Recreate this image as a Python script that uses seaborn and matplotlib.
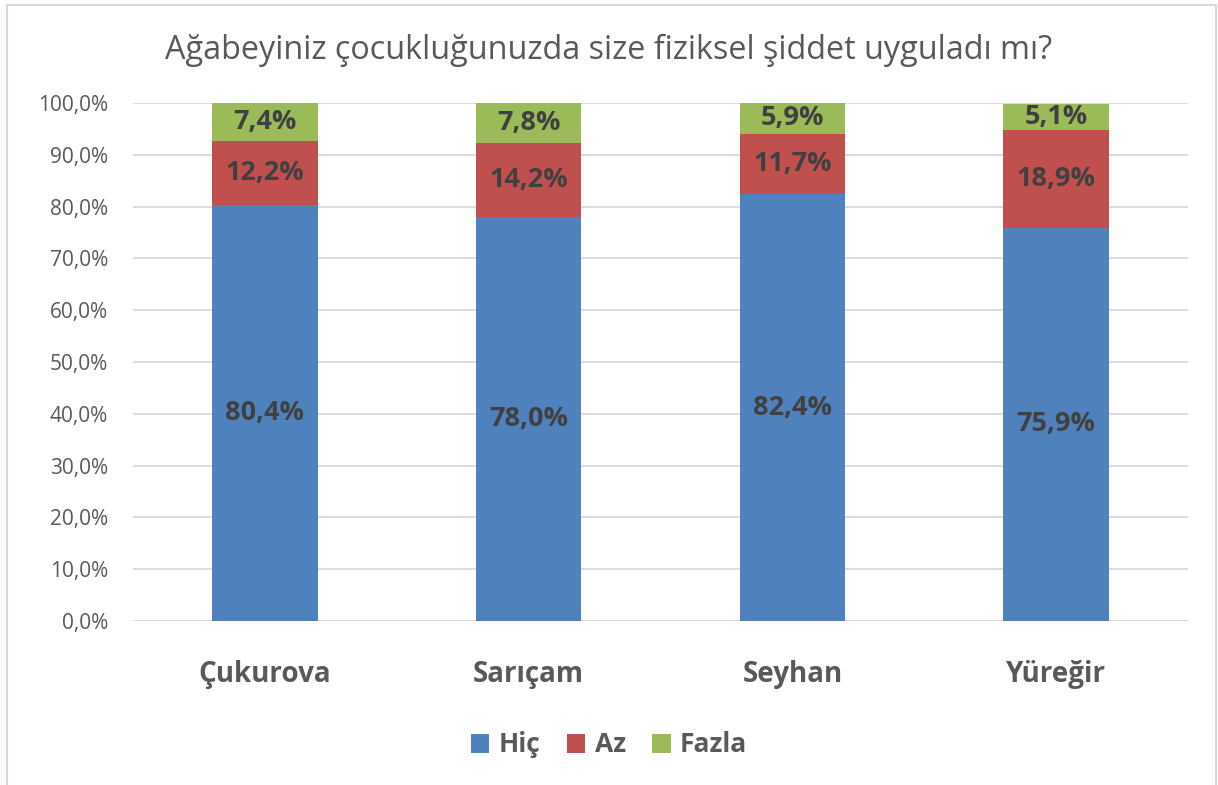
import numpy as np
import pandas as pd
import matplotlib
matplotlib.use("Agg")
import matplotlib.pyplot as plt
import seaborn as sns
from matplotlib.patches import Patch
from matplotlib.lines import Line2D

ilceler = ["Çukurova", "Sarıçam", "Seyhan", "Yüreğir"]
hic = [80.4, 78.0, 82.4, 75.9]
az = [12.2, 14.2, 11.7, 18.9]
fazla = [7.4, 7.8, 5.9, 5.1]

renkler = {"Hiç": "#4F81BD", "Az": "#C0504D", "Fazla": "#9BBB59"}

sns.set_theme(style="white")
plt.rcParams["font.family"] = ["Open Sans", "DejaVu Sans"]

df = pd.DataFrame({"ilce": ilceler, "Hiç": hic, "Az": az, "Fazla": fazla})
df["c_hic"] = df["Hiç"]
df["c_az"] = df["Hiç"] + df["Az"]
df["c_fazla"] = df["c_az"] + df["Fazla"]

fig = plt.figure(figsize=(12.18, 7.85), dpi=100)
ax = fig.add_axes([133 / 1218, 1 - 621 / 785, (1188 - 133) / 1218, (621 - 103) / 785])

# yigilmis cubuklar: toplamdan asagi dogru ust uste cizilir
for col, ad in [("c_fazla", "Fazla"), ("c_az", "Az"), ("c_hic", "Hiç")]:
    sns.barplot(data=df, x="ilce", y=col, color=renkler[ad], width=0.4,
                saturation=1, linewidth=0, ax=ax, zorder=3)

ax.set_ylim(0, 100)
ax.set_xlim(-0.5, 3.5)
ax.set_yticks(np.arange(0, 101, 10))
ax.set_yticklabels([f"{v:.1f}%".replace(".", ",") for v in np.arange(0, 101, 10)],
                   fontsize=15, color="#595959")
ax.yaxis.grid(True, color="#D9D9D9", linewidth=1.3, zorder=0)
ax.set_xlabel("")
ax.set_ylabel("")
ax.set_xticks(range(len(ilceler)))
ax.set_xticklabels(ilceler, fontsize=20, fontweight="bold", color="#595959")
ax.tick_params(axis="x", length=0, pad=28)
ax.tick_params(axis="y", length=0, pad=18)
for s in ax.spines.values():
    s.set_visible(False)

# veri etiketleri
for i in range(len(ilceler)):
    alt = 0
    for vals in (hic, az, fazla):
        v = vals[i]
        ax.text(i, alt + v / 2, f"{v:.1f}%".replace(".", ","), ha="center", va="center",
                fontsize=19.5, fontweight="bold", color="#404040", zorder=5)
        alt += v

fig.text(0.5, 1 - 50 / 785, "Ağabeyiniz çocukluğunuzda size fiziksel şiddet uyguladı mı?",
         ha="center", va="center", fontsize=23.3, color="#595959")

handles = [Patch(facecolor=renkler[k], edgecolor="none") for k in ["Hiç", "Az", "Fazla"]]
leg = fig.legend(handles, ["Hiç", "Az", "Fazla"], loc="center", ncol=3,
                 bbox_to_anchor=(0.5, 1 - 745 / 785), frameon=False,
                 prop={"size": 19, "weight": "bold"}, handlelength=0.7, handleheight=0.7,
                 columnspacing=1.0, handletextpad=0.35)
for t in leg.get_texts():
    t.set_color("#595959")

# cerceve
kenar = "#D9D9D9"
fig.add_artist(Line2D([7 / 1218, 7 / 1218], [0, 1 - 5 / 785], color=kenar, lw=1.5))
fig.add_artist(Line2D([7 / 1218, 1216 / 1218], [1 - 5 / 785, 1 - 5 / 785], color=kenar, lw=1.5))
fig.add_artist(Line2D([1216 / 1218, 1216 / 1218], [0, 1 - 5 / 785], color=kenar, lw=1.5))

fig.savefig("out.png", dpi=100, facecolor="white")
